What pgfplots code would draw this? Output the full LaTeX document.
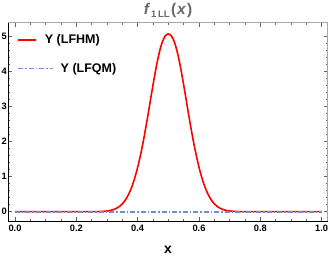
\documentclass[border=0pt]{standalone}
\usepackage{fontspec}
\setmainfont{Liberation Sans}
\usepackage{pgfplots}
\pgfplotsset{compat=1.18}
\definecolor{mred}{RGB}{255,0,0}
\definecolor{mblue}{RGB}{112,145,200}
\definecolor{titlegray}{RGB}{105,105,105}
\pgfplotsset{
  legA/.style={legend image code/.code={\draw[mred, line width=1.6pt] (0pt,0pt) -- (18pt,0pt);}},
  legB/.style={legend image code/.code={\draw[mblue, line width=1.8pt, dash pattern=on 5pt off 2pt on 1.5pt off 2pt, overlay] (0pt,0pt) -- (35pt,0pt); \path (0pt,0pt) -- (18pt,0pt);}},
}
\begin{document}
\begin{tikzpicture}[x=1pt,y=1pt]
\begin{axis}[
  name=ax,
  at={(8.3pt,36pt)}, anchor=south west,
  scale only axis, width=319.4pt, height=198.3pt,
  xmin=-0.0218, xmax=1.0196, ymin=-0.266, ymax=5.4,
  axis line style={black!35, line width=0.6pt},
  tick align=inside,
  major tick length=4pt, minor tick length=2pt,
  tick style={black!60, line width=0.5pt},
  xtick={0,0.2,0.4,0.6,0.8,1.0},
  ytick={0,1,2,3,4,5},
  minor x tick num=3, minor y tick num=4,
  /pgf/number format/assume math mode=true,
  xticklabel={\pgfmathprintnumber[fixed,precision=1,zerofill]{\tick}},
  tick label style={font=\fontsize{9.3}{10}\selectfont\bfseries, text=black},
  yticklabel style={inner xsep=1.2pt},
  xticklabel style={inner ysep=3.5pt},
  xlabel={\textbf{x}},
  xlabel style={font=\fontsize{14}{15}\selectfont, at={(axis description cs:0.5,0)}, anchor=center, yshift=-28.5pt},
  legend cell align=left,
  legend style={draw=none, fill=none, at={(axis description cs:0.028,0.952)}, anchor=north west,
    font=\fontsize{12.5}{14}\selectfont\bfseries, inner sep=0pt,
    nodes={inner xsep=0pt, inner ysep=2pt}, row sep=14.3pt, column sep=7.7pt},
]
\addplot[mred, line width=1.6pt, smooth, legA]
coordinates {
(0,0) (0.1,0) (0.2,0) (0.24,0) (0.26,0.002) (0.28,0.006) (0.30,0.020) (0.31,0.034)
(0.32,0.057) (0.33,0.092) (0.34,0.146) (0.35,0.224) (0.36,0.335) (0.37,0.49)
(0.38,0.69) (0.39,0.95) (0.40,1.27) (0.41,1.65) (0.42,2.09) (0.43,2.58)
(0.44,3.10) (0.45,3.62) (0.46,4.11) (0.47,4.53) (0.48,4.84) (0.49,5.02)
(0.50,5.08)
(0.51,5.02) (0.52,4.84) (0.53,4.53) (0.54,4.11) (0.55,3.62) (0.56,3.10)
(0.57,2.58) (0.58,2.09) (0.59,1.65) (0.60,1.27) (0.61,0.95) (0.62,0.69)
(0.63,0.49) (0.64,0.335) (0.65,0.224) (0.66,0.146) (0.67,0.092) (0.68,0.057)
(0.69,0.034) (0.70,0.020) (0.72,0.006) (0.74,0.002) (0.76,0) (0.8,0) (0.9,0) (1,0)
};
\addlegendentry{Y (LFHM)}
\addplot[mblue, line width=1.8pt, dash pattern=on 5pt off 2pt on 1.5pt off 2pt, legB]
coordinates {(0,0) (0.25,0) (0.5,0) (0.75,0) (1,0)};
\addlegendentry{\hspace{15.8pt}Y (LFQM)}
\end{axis}
\draw[black, line width=0.8pt] (ax.north west) -- (ax.south west) -- (ax.south east);
\node[anchor=center, text=titlegray, inner sep=0pt, yshift=12pt]
  at (ax.north) {\fontsize{15.5}{17}\selectfont\bfseries\textit{f}\kern1pt\raisebox{-3pt}{\fontsize{9.5}{10}\selectfont 1\,LL}\kern1.5pt(\kern0.8pt\textit{x}\kern0.8pt)};
\pgfresetboundingbox
\useasboundingbox (0,0) rectangle (332,257);
\end{tikzpicture}
\end{document}
